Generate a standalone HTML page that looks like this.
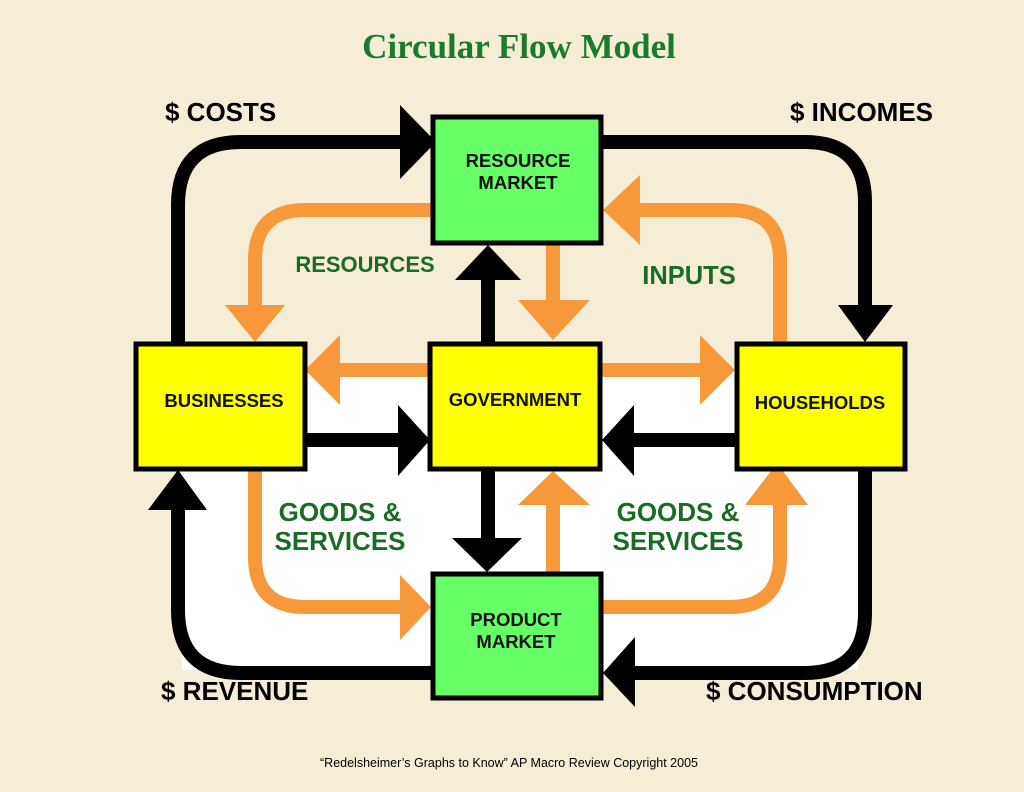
<!DOCTYPE html>
<html><head><meta charset="utf-8"><style>
html,body{margin:0;padding:0;background:#f6edd6;}
svg{display:block}
text{font-family:"Liberation Sans",Arial,sans-serif;font-weight:bold}
</style></head><body>
<svg width="1024" height="792" viewBox="0 0 1024 792">
<rect width="1024" height="792" fill="#f6edd6"/>
<rect x="182" y="366" width="676" height="304" fill="#ffffff"/>
<g fill="none" stroke="#000" stroke-width="14">
<path d="M178 345 V205 Q178 142 241 142 H405"/>
<path d="M603 142 H805 Q865 142 865 202 V310"/>
<path d="M865 471 V613 Q865 673 805 673 H630"/>
<path d="M431 673 H241 Q178 673 178 610 V505"/>
<path d="M488 342 V278"/>
<path d="M488 471 V540"/>
<path d="M307 440 H400"/>
<path d="M735 440 H632"/>
</g>
<g fill="#000">
<polygon points="400,105 436,142 400,179"/>
<polygon points="838,305 893,305 865,342"/>
<polygon points="635,637 635,707 603,673"/>
<polygon points="148,510 207,510 178,470"/>
<polygon points="455,280 521,280 488,245"/>
<polygon points="452,538 522,538 487,572"/>
<polygon points="398,405 430,440 398,476"/>
<polygon points="634,405 602,440 634,476"/>
</g>
<g fill="none" stroke="#f7993a" stroke-width="14">
<path d="M431 210 H305 Q255 210 255 260 V308"/>
<path d="M553 245 V305"/>
<path d="M428 370 H338"/>
<path d="M602 370 H702"/>
<path d="M780 342 V260 Q780 210 730 210 H638"/>
<path d="M255 471 V557 Q255 607 305 607 H403"/>
<path d="M553 572 V503"/>
<path d="M603 607 H730 Q780 607 780 557 V503"/>
</g>
<g fill="#f7993a">
<polygon points="225,305 285,305 255,342"/>
<polygon points="518,300 590,300 553,340"/>
<polygon points="340,335 340,405 305,370"/>
<polygon points="700,335 700,405 735,370"/>
<polygon points="640,175 640,245 603,210"/>
<polygon points="400,575 400,640 431,607"/>
<polygon points="518,505 590,505 553,471"/>
<polygon points="745,505 808,505 777,463"/>
</g>
<g stroke="#000" stroke-width="5">
<rect x="433" y="117" width="168" height="126" fill="#66ff66"/>
<rect x="433" y="574" width="168" height="124" fill="#66ff66"/>
<rect x="136" y="344" width="169" height="125" fill="#ffff00"/>
<rect x="430" y="344" width="170" height="125" fill="#ffff00"/>
<rect x="737" y="344" width="168" height="125" fill="#ffff00"/>
</g>
<g font-size="18.5" text-anchor="middle" fill="#111">
<text x="518" y="167">RESOURCE</text>
<text x="518" y="189">MARKET</text>
<text x="516" y="626">PRODUCT</text>
<text x="516" y="648">MARKET</text>
<text x="224" y="407">BUSINESSES</text>
<text x="515" y="406">GOVERNMENT</text>
<text x="820" y="409">HOUSEHOLDS</text>
</g>
<text x="519" y="58" text-anchor="middle" font-size="35" fill="#1e7a2a" style="font-family:'Liberation Serif',serif">Circular Flow Model</text>
<g font-size="26" fill="#000">
<text x="165" y="121">$ COSTS</text>
<text x="790" y="121">$ INCOMES</text>
<text x="161" y="700">$ REVENUE</text>
<text x="706" y="700">$ CONSUMPTION</text>
</g>
<g fill="#1a6b26" text-anchor="middle">
<text x="365" y="272" font-size="22">RESOURCES</text>
<text x="689" y="284" font-size="25.5">INPUTS</text>
<text x="340" y="521" font-size="26">GOODS &amp;</text>
<text x="340" y="550" font-size="26">SERVICES</text>
<text x="678" y="521" font-size="26">GOODS &amp;</text>
<text x="678" y="550" font-size="26">SERVICES</text>
</g>
<text x="509" y="767" text-anchor="middle" font-size="12.5" fill="#000" style="font-weight:normal">“Redelsheimer’s Graphs to Know”  AP Macro Review Copyright 2005</text>
</svg>
</body></html>
